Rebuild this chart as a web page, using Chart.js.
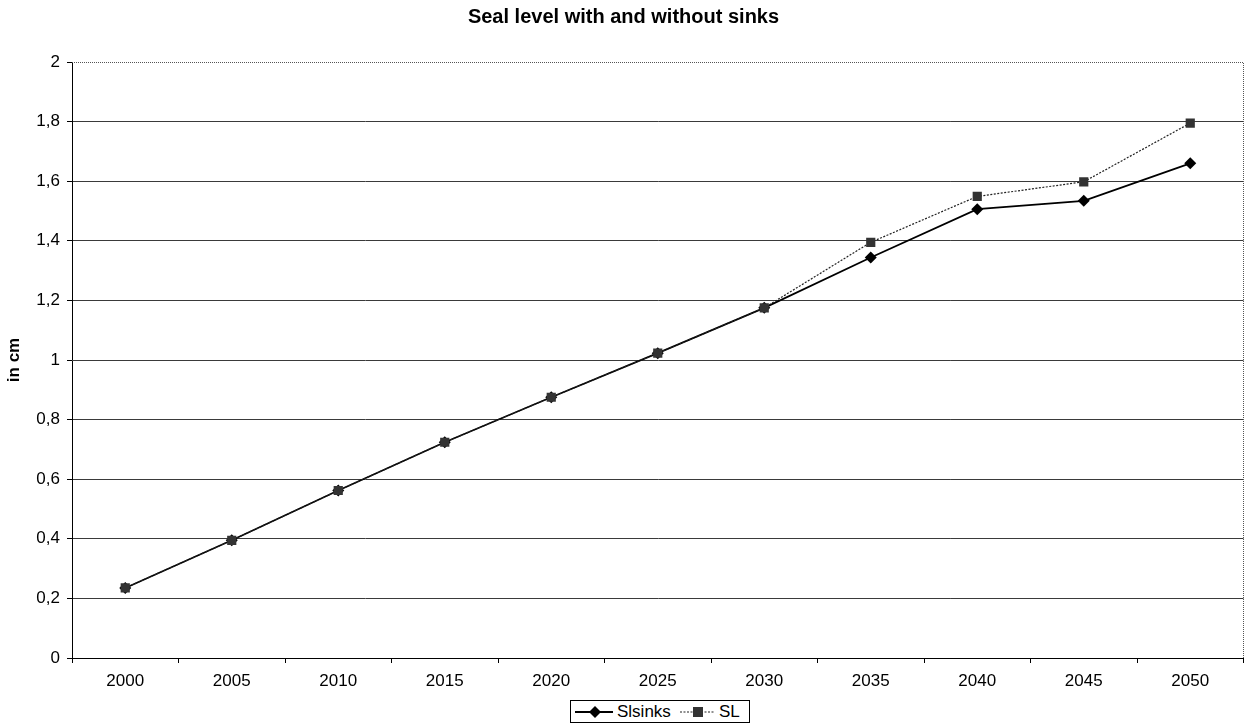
<!DOCTYPE html>
<html>
<head>
<meta charset="utf-8">
<title>Seal level with and without sinks</title>
<script src="https://cdn.jsdelivr.net/npm/chart.js@4/dist/chart.umd.min.js"></script>
<style>
  html, body { margin: 0; padding: 0; background: #fff; }
  #wrap { position: relative; width: 1250px; height: 725px; }
  #legend {
    position: absolute; left: 570px; top: 700px; width: 180px; height: 23px;
    border: 1px solid #000; box-sizing: border-box; background: #fff;
    font-family: "Liberation Sans", Arial, sans-serif; font-size: 17px; color: #000;
  }
  #legend svg, #legend span { position: absolute; display: block; }
  #legend span { top: 0px; line-height: 21px; white-space: nowrap; }
</style>
</head>
<body>
<div id="wrap">
  <canvas id="chart" width="1250" height="725"></canvas>
  <div id="legend">
    <svg style="left:3px;top:3px" width="40" height="16"><line x1="1" y1="8" x2="39" y2="8" stroke="#000" stroke-width="2"/><polygon points="21,2 27,8 21,14 15,8" fill="#000"/></svg>
    <span style="left:46px">Slsinks</span>
    <svg style="left:108px;top:3px" width="36" height="16"><line x1="1" y1="8" x2="35" y2="8" stroke="#222" stroke-width="1.2" stroke-dasharray="2,1.5"/><rect x="14" y="3" width="10" height="10" fill="#333"/></svg>
    <span style="left:148px">SL</span>
  </div>
</div>
<script>
// Years on the category axis
const years = ['2000', '2005', '2010', '2015', '2020', '2025', '2030', '2035', '2040', '2045', '2050'];

// Sea level rise (cm) with sinks
const slsinks = [0.235, 0.395, 0.562, 0.724, 0.875, 1.023, 1.175, 1.344, 1.506, 1.534, 1.660];

// Sea level rise (cm) without sinks
const sl = [0.235, 0.395, 0.562, 0.724, 0.875, 1.023, 1.175, 1.395, 1.549, 1.598, 1.795];

// Y axis range and tick step
const yMin = 0;
const yMax = 2;
const yStep = 0.2;

const FONT = '"Liberation Sans", Arial, sans-serif';

// Dotted frame on the top and right edges of the plot area
const plotFrame = {
  id: 'plotFrame',
  afterDatasetsDraw(chart) {
    const { ctx, chartArea: a } = chart;
    ctx.save();
    ctx.strokeStyle = '#555';
    ctx.lineWidth = 1;
    ctx.setLineDash([1, 1]);
    ctx.beginPath();
    ctx.moveTo(a.left, Math.round(a.top) + 0.5);
    ctx.lineTo(Math.round(a.right) - 0.5, Math.round(a.top) + 0.5);
    ctx.lineTo(Math.round(a.right) - 0.5, a.bottom);
    ctx.stroke();
    ctx.restore();
  }
};

new Chart(document.getElementById('chart'), {
  type: 'line',
  data: {
    labels: years,
    datasets: [
      {
        label: 'Slsinks',
        data: slsinks,
        order: 1,
        borderColor: '#000',
        borderWidth: 1.8,
        pointStyle: 'rectRot',
        pointRadius: 6,
        pointBackgroundColor: '#000',
        pointBorderColor: '#000',
        pointBorderWidth: 0,
        tension: 0
      },
      {
        label: 'SL',
        data: sl,
        order: 0,
        borderColor: '#222',
        borderWidth: 1.2,
        borderDash: [2, 1.5],
        pointStyle: 'rect',
        pointRadius: 6.5,
        pointBackgroundColor: '#333',
        pointBorderColor: '#333',
        pointBorderWidth: 0,
        tension: 0
      }
    ]
  },
  options: {
    responsive: false,
    animation: false,
    layout: { padding: { left: 0, right: 3, top: 0, bottom: 0 } },
    plugins: {
      legend: { display: false },
      tooltip: { enabled: false },
      title: {
        display: true,
        text: 'Seal level with and without sinks',
        color: '#000',
        font: { family: FONT, size: 20, weight: 'bold' },
        padding: { top: 5, bottom: 33 }
      }
    },
    scales: {
      x: {
        type: 'category',
        offset: true,
        grid: {
          offset: true,
          drawOnChartArea: false,
          drawTicks: true,
          tickLength: 5,
          tickColor: '#000'
        },
        border: { display: true, color: '#000', width: 1 },
        ticks: {
          color: '#000',
          padding: 8,
          font: { family: FONT, size: 17 },
          maxRotation: 0,
          autoSkip: false
        },
        afterFit(scale) { scale.height = 67; }
      },
      y: {
        min: yMin,
        max: yMax,
        grid: {
          color: (c) => (c.tick && c.tick.value >= yMax ? 'rgba(0,0,0,0)' : '#3a3a3a'),
          lineWidth: 1,
          tickLength: 5,
          tickColor: '#000'
        },
        border: { display: true, color: '#000', width: 1 },
        ticks: {
          stepSize: yStep,
          color: '#000',
          padding: 7,
          font: { family: FONT, size: 17 },
          callback: (v) => String(Math.round(v * 10) / 10).replace('.', ',')
        },
        title: {
          display: true,
          text: 'in cm',
          color: '#000',
          font: { family: FONT, size: 17, weight: 'bold' },
          padding: { top: 4, bottom: 0 }
        },
        afterFit(scale) { scale.width = 72; }
      }
    }
  },
  plugins: [plotFrame]
});
</script>
</body>
</html>
